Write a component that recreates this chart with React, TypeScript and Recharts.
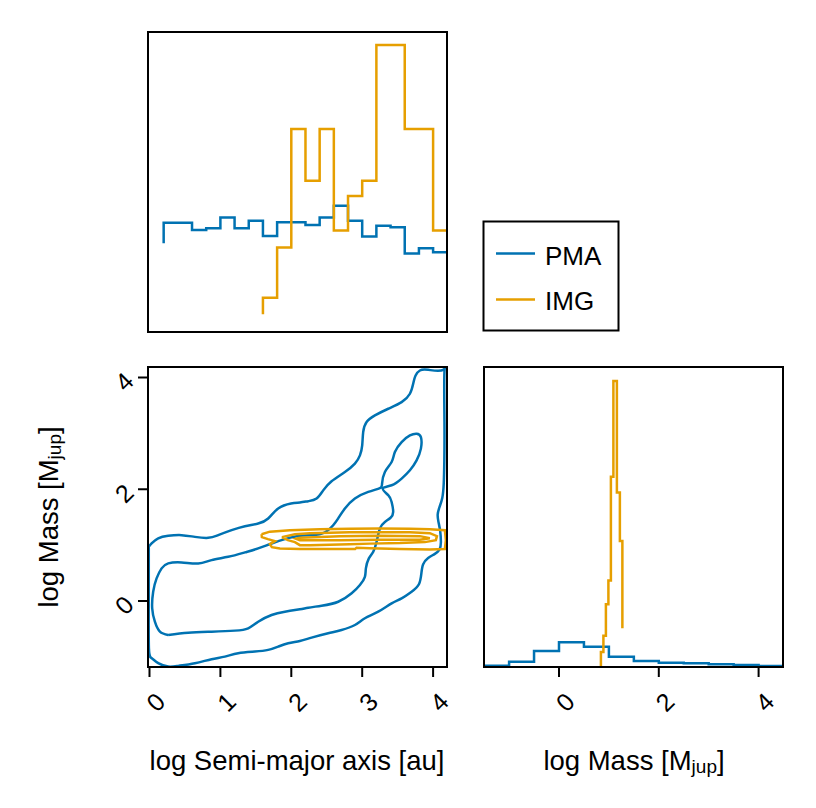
import { LineChart, Line, XAxis, YAxis } from 'recharts';

const BLUE = '#0072B2';
const ORANGE = '#E69F00';
const FONT = '"Liberation Sans", Arial, Helvetica, sans-serif';
const LW = 2.5;

// marginal of log semi-major axis (stairs: left bin edge, height)
const SMA_PMA_EDGES = [0.2, 0.2, 0.6, 0.8, 1.0, 1.2, 1.4, 1.6, 1.8, 2.2, 2.4, 2.6, 2.8, 3.0, 3.2, 3.4, 3.6, 3.8, 4.0, 4.4];
const SMA_PMA_HEIGHTS = [29.6, 36.4, 34.0, 34.6, 38.2, 34.6, 37.1, 32.0, 36.6, 35.7, 38.2, 42.1, 37.1, 31.8, 35.4, 34.9, 26.2, 27.9, 26.6, 26.6];
const SMA_IMG_EDGES = [1.6, 1.6, 1.8, 2.0, 2.2, 2.4, 2.6, 2.8, 3.0, 3.2, 3.6, 4.0, 4.4];
const SMA_IMG_HEIGHTS = [5.9, 11.4, 28.2, 67.7, 50.4, 67.7, 33.8, 45.3, 50.4, 95.7, 67.7, 33.8, 33.8];

// marginal of log mass
const MASS_PMA_EDGES = [-2.0, -1.0, -0.5, 0, 0.5, 1.0, 1.5, 2.0, 2.5, 3.0, 3.5, 4.0, 4.8];
const MASS_PMA_HEIGHTS = [0.43, 1.77, 5.33, 8.23, 6.77, 3.43, 2.0, 1.43, 1.23, 0.9, 0.67, 0.33, 0.33];
const MASS_IMG_EDGES = [0.84, 0.84, 0.89, 0.94, 0.99, 1.04, 1.09, 1.16, 1.22, 1.27];
const MASS_IMG_HEIGHTS = [0.33, 5.0, 10.4, 20.9, 28.8, 63.4, 95.3, 58.2, 42.0, 12.9];

// 2D contours, [log a, log M]
const PMA_OUTER: [number, number][] = [
  [-0.01, 0.97], [0.03, 1.03], [0.123, 1.12], [0.264, 1.166], [0.453, 1.179], [0.64, 1.148], [0.828, 1.13],
  [0.969, 1.179], [1.158, 1.268], [1.346, 1.339], [1.533, 1.387], [1.674, 1.477], [1.815, 1.655], [1.996, 1.745],
  [2.121, 1.763], [2.239, 1.786], [2.357, 1.834], [2.45, 1.98], [2.568, 2.143], [2.756, 2.309], [2.897, 2.459],
  [2.968, 2.607], [3.0, 2.786], [3.014, 3.023], [3.062, 3.202], [3.179, 3.321], [3.367, 3.441], [3.556, 3.559],
  [3.673, 3.709], [3.719, 3.887], [3.753, 4.036], [3.814, 4.125], [3.931, 4.137], [4.142, 4.137], [4.16, 4.1],
  [4.16, 3.2], [4.158, 2.5], [4.15, 2.1], [4.13, 1.85], [4.09, 1.68], [4.065, 1.55], [4.075, 1.42], [4.1, 1.25],
  [4.11, 1.05], [4.09, 0.92], [4.02, 0.84], [3.93, 0.77], [3.86, 0.66], [3.835, 0.5], [3.8, 0.3], [3.697, 0.166],
  [3.556, 0.048], [3.415, -0.041], [3.226, -0.191], [3.038, -0.309], [2.897, -0.429], [2.709, -0.518],
  [2.52, -0.577], [2.286, -0.655], [2.121, -0.714], [1.956, -0.755], [1.815, -0.816], [1.674, -0.875],
  [1.487, -0.905], [1.251, -0.934], [1.063, -0.995], [0.876, -1.041], [0.64, -1.113], [0.405, -1.161],
  [0.264, -1.173], [0.123, -1.113], [0.03, -1.023], [-0.008, -0.845], [-0.01, 0.0], [-0.01, 0.97],
];
const PMA_INNER: [number, number][] = [
  [0.264, -0.607], [0.147, -0.548], [0.076, -0.37], [0.038, -0.13], [0.052, 0.166], [0.1, 0.405], [0.171, 0.584],
  [0.264, 0.673], [0.453, 0.691], [0.687, 0.673], [0.876, 0.732], [1.11, 0.791], [1.346, 0.87], [1.533, 0.941],
  [1.722, 1.03], [1.91, 1.107], [2.121, 1.166], [2.3, 1.18], [2.474, 1.23], [2.591, 1.357], [2.662, 1.48],
  [2.756, 1.655], [2.897, 1.834], [3.085, 1.952], [3.25, 2.02], [3.28, 2.1], [3.32, 2.309], [3.415, 2.488],
  [3.461, 2.666], [3.556, 2.845], [3.673, 2.964], [3.767, 2.995], [3.828, 2.934], [3.828, 2.727], [3.767, 2.518],
  [3.673, 2.339], [3.556, 2.191], [3.415, 2.071], [3.29, 2.013], [3.367, 1.893], [3.415, 1.773], [3.437, 1.595],
  [3.4, 1.49], [3.32, 1.416], [3.25, 1.298], [3.203, 1.059], [3.155, 0.88], [3.094, 0.763], [3.052, 0.584],
  [3.038, 0.434], [2.968, 0.286], [2.851, 0.138], [2.662, -0.013], [2.427, -0.084], [2.239, -0.12],
  [2.121, -0.148], [1.91, -0.191], [1.722, -0.25], [1.533, -0.37], [1.392, -0.488], [1.205, -0.53],
  [0.876, -0.548], [0.546, -0.566], [0.264, -0.607],
];
const IMG_OUTER: [number, number][] = [
  [1.581, 1.196], [1.698, 1.241], [1.98, 1.268], [2.403, 1.286], [2.826, 1.295], [3.249, 1.298], [3.672, 1.295],
  [3.954, 1.286], [4.166, 1.268], [4.18, 1.089], [4.166, 0.929], [3.954, 0.92], [3.532, 0.929], [3.109, 0.946],
  [2.92, 0.955], [2.9, 0.93], [2.685, 0.93], [2.474, 0.929], [2.121, 0.929], [1.839, 0.938], [1.726, 0.964],
  [1.698, 1.018], [1.769, 1.071], [1.67, 1.107], [1.585, 1.143], [1.581, 1.196],
];
const IMG_INNER: [number, number][] = [
  [1.867, 1.143], [2.051, 1.196], [2.262, 1.214], [2.544, 1.223], [2.826, 1.232], [3.249, 1.232], [3.672, 1.232],
  [3.954, 1.214], [4.054, 1.161], [4.039, 1.089], [3.884, 1.054], [3.532, 1.036], [3.109, 1.027], [2.826, 1.018],
  [2.544, 1.009], [2.262, 1.0], [2.121, 1.0], [2.051, 1.054], [1.952, 1.089], [1.867, 1.143],
];
const IMG_CORE: [number, number][] = [
  [2.121, 1.134], [2.685, 1.161], [3.249, 1.17], [3.813, 1.161], [3.954, 1.125], [3.813, 1.098], [3.249, 1.098],
  [2.685, 1.089], [2.121, 1.089], [2.065, 1.116], [2.121, 1.134],
];

const SMA_TICKS = [0, 1, 2, 3, 4];
const MASS_TICKS = [0, 2, 4];

const SMA_DOMAIN = [-0.021, 4.196];
const MASS_Y_DOMAIN = [-1.181, 4.188];
const MASS_X_DOMAIN = [-1.503, 4.489];

const steps = (edges: number[], heights: number[]) => edges.map((x, i) => ({ x, y: heights[i] }));
const curve = (pts: [number, number][]) => pts.map(([x, y]) => ({ x, y }));

function XTick({ x, y, payload }: any) {
  return (
    <g transform={`translate(${x + 6},${y + 25})`}>
      <text transform="rotate(-45)" textAnchor="middle" dominantBaseline="central" fontSize={25} fontFamily={FONT} fill="#000">
        {payload.value}
      </text>
    </g>
  );
}

function YTick({ x, y, payload }: any) {
  return (
    <g transform={`translate(${x - 14},${y + 4})`}>
      <text transform="rotate(-45)" textAnchor="middle" dominantBaseline="central" fontSize={25} fontFamily={FONT} fill="#000">
        {payload.value}
      </text>
    </g>
  );
}

const tickLine = { stroke: '#000', strokeWidth: 2 };

export default function App() {
  return (
    <div style={{ position: 'absolute', left: 0, top: 0, width: 816, height: 808, background: '#fff', fontFamily: FONT }}>
      {/* top-left: log a marginal */}
      <div style={{ position: 'absolute', left: 148, top: 32 }}>
        <LineChart width={299} height={300} margin={{ top: 0, right: 0, bottom: 0, left: 0 }}>
          <XAxis type="number" dataKey="x" domain={SMA_DOMAIN} allowDataOverflow hide />
          <YAxis type="number" domain={[0, 100]} allowDataOverflow hide />
          <Line data={steps(SMA_PMA_EDGES, SMA_PMA_HEIGHTS)} dataKey="y" type="stepAfter" stroke={BLUE} strokeWidth={LW} dot={false} activeDot={false} isAnimationActive={false} />
          <Line data={steps(SMA_IMG_EDGES, SMA_IMG_HEIGHTS)} dataKey="y" type="stepAfter" stroke={ORANGE} strokeWidth={LW} dot={false} activeDot={false} isAnimationActive={false} />
        </LineChart>
      </div>

      {/* bottom-left: joint contours */}
      <div style={{ position: 'absolute', left: 78, top: 357 }}>
        <LineChart width={379} height={380} margin={{ top: 10, right: 10, bottom: 0, left: 0 }}>
          <XAxis type="number" dataKey="x" domain={SMA_DOMAIN} allowDataOverflow ticks={SMA_TICKS} interval={0}
            height={70} axisLine={false} tickLine={tickLine} tickSize={10} tickMargin={0} tick={<XTick />} />
          <YAxis type="number" domain={MASS_Y_DOMAIN} allowDataOverflow ticks={MASS_TICKS} interval={0}
            width={70} axisLine={false} tickLine={tickLine} tickSize={10} tickMargin={0} tick={<YTick />} />
          <Line data={curve(PMA_OUTER)} dataKey="y" type="natural" stroke={BLUE} strokeWidth={LW} dot={false} activeDot={false} isAnimationActive={false} />
          <Line data={curve(PMA_INNER)} dataKey="y" type="natural" stroke={BLUE} strokeWidth={LW} dot={false} activeDot={false} isAnimationActive={false} />
          <Line data={curve(IMG_OUTER)} dataKey="y" type="linear" stroke={ORANGE} strokeWidth={LW} dot={false} activeDot={false} isAnimationActive={false} />
          <Line data={curve(IMG_INNER)} dataKey="y" type="linear" stroke={ORANGE} strokeWidth={LW} dot={false} activeDot={false} isAnimationActive={false} />
          <Line data={curve(IMG_CORE)} dataKey="y" type="linear" stroke={ORANGE} strokeWidth={LW} dot={false} activeDot={false} isAnimationActive={false} />
        </LineChart>
      </div>

      {/* bottom-right: log M marginal */}
      <div style={{ position: 'absolute', left: 484, top: 367 }}>
        <LineChart width={299} height={370} margin={{ top: 0, right: 0, bottom: 0, left: 0 }}>
          <XAxis type="number" dataKey="x" domain={MASS_X_DOMAIN} allowDataOverflow ticks={MASS_TICKS} interval={0}
            height={70} axisLine={false} tickLine={tickLine} tickSize={10} tickMargin={0} tick={<XTick />} />
          <YAxis type="number" domain={[0, 100]} allowDataOverflow hide />
          <Line data={steps(MASS_PMA_EDGES, MASS_PMA_HEIGHTS)} dataKey="y" type="stepAfter" stroke={BLUE} strokeWidth={LW} dot={false} activeDot={false} isAnimationActive={false} />
          <Line data={steps(MASS_IMG_EDGES, MASS_IMG_HEIGHTS)} dataKey="y" type="stepAfter" stroke={ORANGE} strokeWidth={LW} dot={false} activeDot={false} isAnimationActive={false} />
        </LineChart>
      </div>

      {/* frames, legend, axis titles */}
      <svg width={816} height={808} style={{ position: 'absolute', left: 0, top: 0, pointerEvents: 'none' }} fontFamily={FONT}>
        <rect x={148} y={32} width={299} height={300} fill="none" stroke="#000" strokeWidth={2} />
        <rect x={148} y={367} width={299} height={300} fill="none" stroke="#000" strokeWidth={2} />
        <rect x={484} y={367} width={299} height={300} fill="none" stroke="#000" strokeWidth={2} />

        <rect x={483.5} y={221.5} width={135} height={109} fill="#fff" stroke="#000" strokeWidth={2} />
        <line x1={496} x2={535} y1={253.5} y2={253.5} stroke={BLUE} strokeWidth={LW} />
        <text x={545} y={265} fontSize={26} fill="#000">PMA</text>
        <line x1={496} x2={535} y1={299.5} y2={299.5} stroke={ORANGE} strokeWidth={LW} />
        <text x={545} y={310} fontSize={26} fill="#000">IMG</text>

        <text x={297} y={770} fontSize={27.5} textAnchor="middle" fill="#000">log Semi-major axis [au]</text>
        <text x={634} y={770} fontSize={27.5} textAnchor="middle" fill="#000">
          log Mass [M<tspan fontSize={19} dy={3}>jup</tspan><tspan dy={-3}>]</tspan>
        </text>
        <text transform="translate(58,517) rotate(-90)" fontSize={27.5} textAnchor="middle" fill="#000">
          log Mass [M<tspan fontSize={19} dy={3}>jup</tspan><tspan dy={-3}>]</tspan>
        </text>
      </svg>
    </div>
  );
}
